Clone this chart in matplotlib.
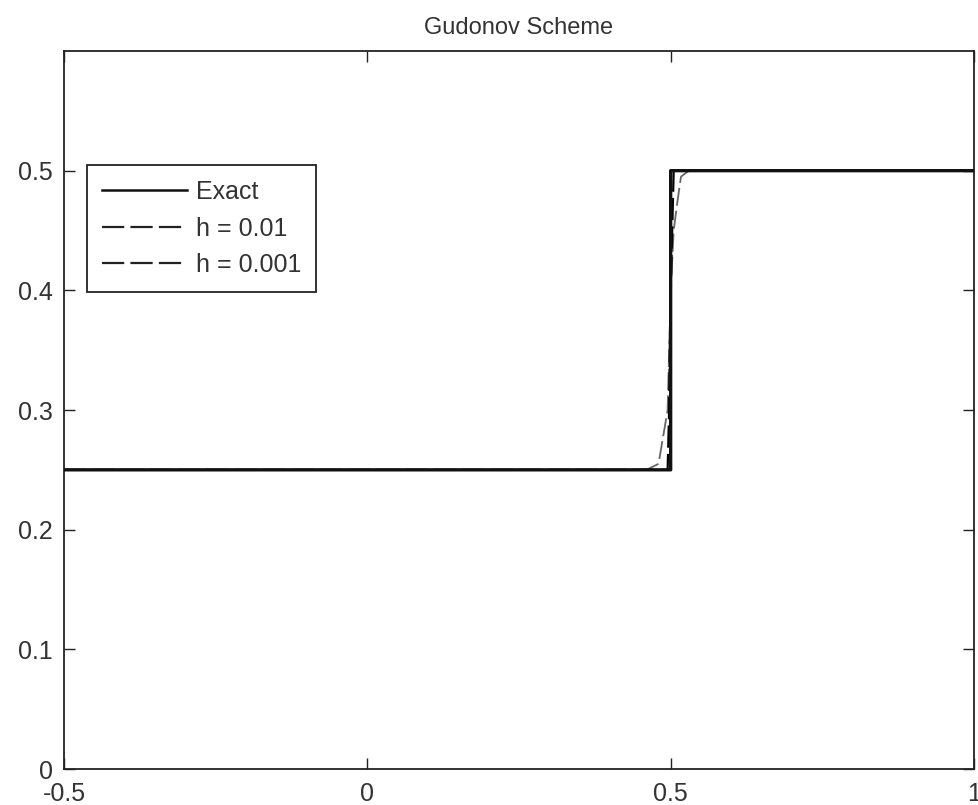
import matplotlib
matplotlib.use('Agg')
import matplotlib.pyplot as plt

# exact solution (step at x = 0.5)
x_exact = [-0.5, 0.5, 0.5, 1.0]
u_exact = [0.25, 0.25, 0.5, 0.5]

# numerical solutions
x_h01 = [-0.5, 0.46, 0.48, 0.495, 0.50, 0.505, 0.51, 0.517, 0.53, 1.0]
u_h01 = [0.25, 0.25, 0.255, 0.30, 0.40, 0.45, 0.47, 0.495, 0.50, 0.50]

x_h001 = [-0.5, 0.495, 0.4975, 0.4985, 0.501, 0.503, 0.505, 1.0]
u_h001 = [0.25, 0.25, 0.30, 0.35, 0.42, 0.46, 0.50, 0.50]

xticks = [-0.5, 0, 0.5, 1]
xtick_labels = ['-0.5', '0', '0.5', '1']
yticks = [0, 0.1, 0.2, 0.3, 0.4, 0.5]
ytick_labels = ['0', '0.1', '0.2', '0.3', '0.4', '0.5']

plt.rcParams['font.family'] = ['Liberation Sans', 'DejaVu Sans']
plt.rcParams['font.size'] = 18

fig = plt.figure(figsize=(9.79, 8.05), dpi=100)
ax = fig.add_axes([64/979, 1 - 769/805, 910/979, 718/805])

dash = (0, (10, 2.8))
# numerical curves under the exact one, so they only show at the jump
ax.plot(x_h01, u_h01, color='#666666', lw=1.3, ls=dash, label='h = 0.01',
        zorder=2, snap=False)
ax.plot(x_h001, u_h001, color='black', lw=1.6, ls=dash, label='h = 0.001',
        zorder=2, snap=False)
ax.plot(x_exact, u_exact, color='#111111', lw=2.4, label='Exact',
        zorder=3, snap=False)

ax.set_xlim(-0.5, 1)
ax.set_ylim(0, 0.6)
ax.set_xticks(xticks)
ax.set_xticklabels(xtick_labels)
ax.set_yticks(yticks)
ax.set_yticklabels(ytick_labels)
ax.tick_params(direction='in', length=8, width=1, top=True, right=True,
               colors='#222222', labelcolor='#333333', labelsize=18)
ax.tick_params(axis='x', pad=9)
ax.tick_params(axis='y', pad=8)
for s in ax.spines.values():
    s.set_linewidth(1.3)
    s.set_color('#222222')

ax.set_title('Gudonov Scheme', fontsize=17, color='#333333', pad=12)

handles, labels = ax.get_legend_handles_labels()
order = [2, 0, 1]
leg = ax.legend([handles[i] for i in order], [labels[i] for i in order],
                loc='upper left', bbox_to_anchor=(23/910, 1 - 114/718),
                borderaxespad=0, fancybox=False, framealpha=1,
                edgecolor='#222222', handlelength=3.4, handletextpad=0.35,
                labelspacing=0.5, borderpad=0.6, fontsize=18)
leg.get_frame().set_linewidth(1.3)
for t in leg.get_texts():
    t.set_color('#333333')
for ln in leg.get_lines()[1:]:
    ln.set_color('#222222')
    ln.set_linewidth(1.6)
leg.get_lines()[0].set_linewidth(1.8)

fig.savefig('out.png', dpi=100)
